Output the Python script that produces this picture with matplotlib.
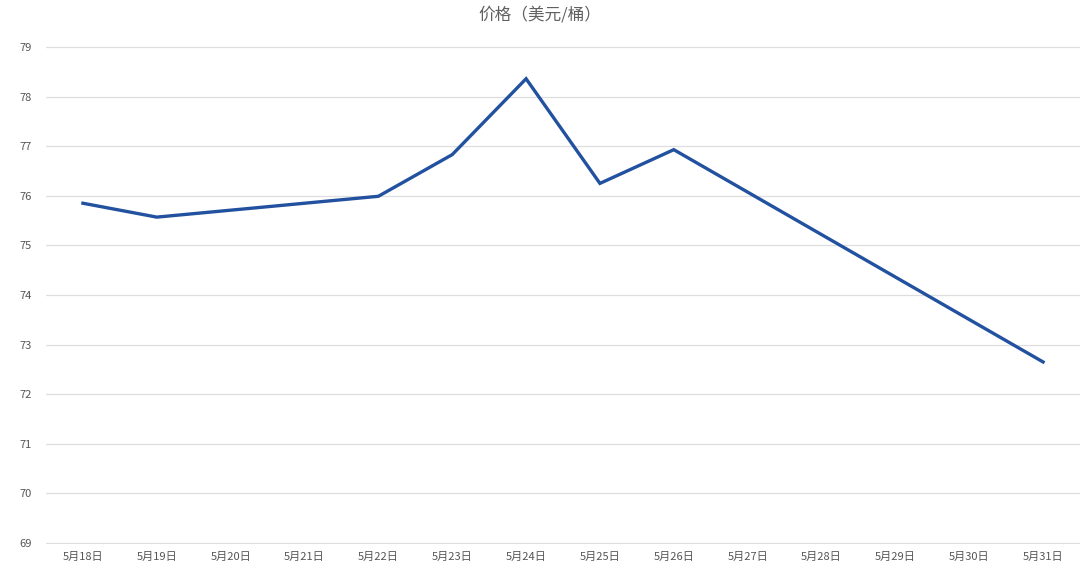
import matplotlib
matplotlib.use("Agg")
import matplotlib.pyplot as plt

plt.rcParams["font.family"] = ["Noto Sans CJK SC", "DejaVu Sans"]

DATES = ["5月18日", "5月19日", "5月20日", "5月21日", "5月22日", "5月23日", "5月24日",
         "5月25日", "5月26日", "5月27日", "5月28日", "5月29日", "5月30日", "5月31日"]
# days that have a price and the price on them
PRICE_DAYS = ["5月18日", "5月19日", "5月22日", "5月23日", "5月24日", "5月25日", "5月26日", "5月31日"]
PRICES = [75.85, 75.57, 75.99, 76.83, 78.36, 76.25, 76.93, 72.65]
Y_TICKS = list(range(69, 80))

fig = plt.figure(figsize=(10.8, 5.68), dpi=100)
ax = fig.add_axes([0.0426, 0.0423, 0.9574, 0.8767])

xs = [DATES.index(d) for d in PRICE_DAYS]
ax.plot(xs, PRICES, color="#2251a0", linewidth=2.4, solid_joinstyle="miter")

ax.set_xlim(-0.5, len(DATES) - 0.5)
ax.set_ylim(68.98, 79.02)
ax.set_xticks(range(len(DATES)))
ax.set_xticklabels(DATES)
ax.set_yticks(Y_TICKS)
ax.yaxis.grid(True, color="#dedede", linewidth=0.9)
ax.set_axisbelow(True)
for s in ax.spines.values():
    s.set_visible(False)
ax.tick_params(axis="both", length=0, labelsize=8, labelcolor="#555555")
ax.tick_params(axis="x", pad=6)
ax.tick_params(axis="y", pad=10)

fig.text(0.5, 0.974, "价格（美元/桶）", ha="center", va="center",
         fontsize=12, color="#606060")

fig.savefig("out.png", dpi=100)
